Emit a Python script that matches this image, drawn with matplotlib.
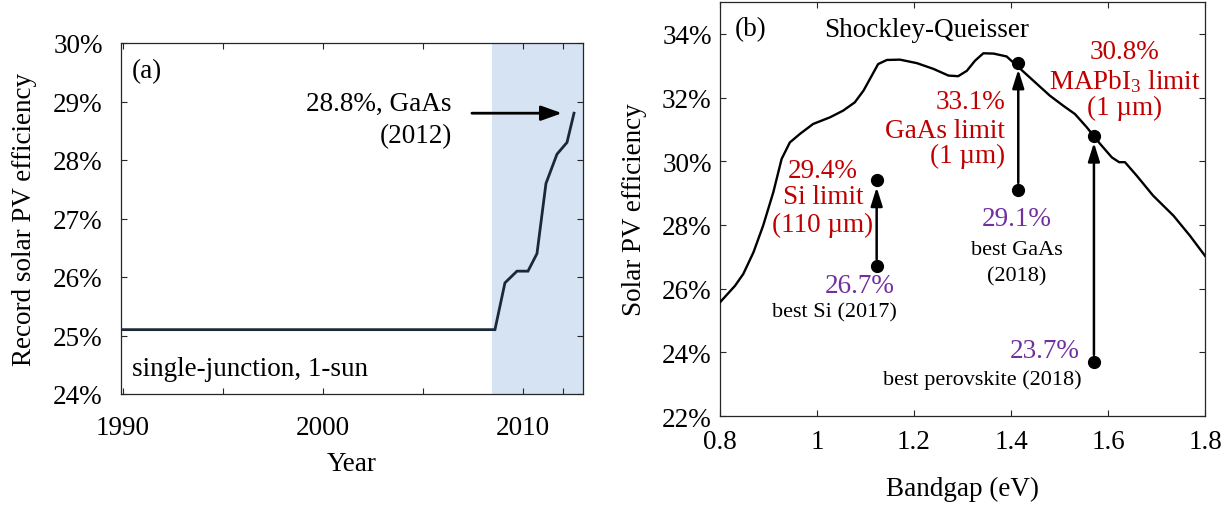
import matplotlib
matplotlib.use("Agg")
import matplotlib.pyplot as plt

plt.rcParams["font.family"] = ["Liberation Serif", "DejaVu Serif"]
plt.rcParams["mathtext.fontset"] = "custom"
plt.rcParams["mathtext.rm"] = "Liberation Serif"
plt.rcParams["mathtext.it"] = "Liberation Serif:italic"

# ---- (a) record single-junction efficiency (GaAs) vs. year ----
record_years = [1990, 2008.6, 2009.1, 2009.7, 2010.25, 2010.7, 2011.15, 2011.7, 2012.2, 2012.55]
record_eff = [25.1, 25.1, 25.9, 26.1, 26.1, 26.4, 27.6, 28.1, 28.3, 28.8]
shade_years = [2008.45, 2013.0]
year_ticks = [1990, 1995, 2000, 2005, 2010, 2012]
year_labels = ["1990", "", "2000", "", "2010", ""]
eff_ticks_a = [24, 25, 26, 27, 28, 29, 30]

# ---- (b) Shockley-Queisser limit vs. bandgap ----
sq_bandgap = [0.800, 0.831, 0.848, 0.869, 0.889, 0.910, 0.927, 0.944, 0.965, 0.992,
              1.027, 1.054, 1.078, 1.096, 1.113, 1.126, 1.144, 1.171, 1.206, 1.240,
              1.271, 1.291, 1.309, 1.326, 1.343, 1.364, 1.391, 1.412, 1.446, 1.480,
              1.508, 1.532, 1.556, 1.584, 1.608, 1.623, 1.635, 1.659, 1.693, 1.735,
              1.769, 1.800]
sq_eff = [25.57, 26.09, 26.46, 27.14, 27.98, 29.03, 30.07, 30.59, 30.86, 31.17,
          31.38, 31.59, 31.85, 32.22, 32.69, 33.05, 33.18, 33.19, 33.08, 32.90,
          32.69, 32.67, 32.84, 33.16, 33.39, 33.38, 33.29, 33.00, 32.53, 32.06,
          31.74, 31.48, 31.07, 30.54, 30.12, 29.97, 29.97, 29.55, 28.92, 28.29,
          27.66, 27.03]

materials = ["Si", "GaAs", "perovskite"]
mat_bandgap = [1.123, 1.415, 1.571]
mat_limit = [29.4, 33.1, 30.8]
mat_best = [26.7, 29.1, 23.7]
bandgap_ticks = [0.8, 1.0, 1.2, 1.4, 1.6, 1.8]
bandgap_labels = ["0.8", "1", "1.2", "1.4", "1.6", "1.8"]
eff_ticks_b = [22, 24, 26, 28, 30, 32, 34]

RED = "#c00000"
PURPLE = "#7030a0"
AXC = "#262626"
FS = 19.5
FS_SMALL = 16

W, H = 1229, 506
fig = plt.figure(figsize=(W / 100, H / 100), dpi=100)

def px_axes(l, t, r, b):
    return [l / W, 1 - b / H, (r - l) / W, (b - t) / H]

def style(ax, xpad, ypad):
    for s in ax.spines.values():
        s.set_color(AXC)
        s.set_linewidth(0.9)
    ax.tick_params(direction="in", top=True, right=True, length=4, width=0.8,
                   colors=AXC, labelcolor="black", labelsize=FS)
    ax.tick_params(axis="x", pad=xpad)
    ax.tick_params(axis="y", pad=ypad)

# ---------------- panel (a) ----------------
ax1 = fig.add_axes(px_axes(120.7, 44, 583, 395))
ax1.axvspan(shade_years[0], shade_years[1], color="#d5e3f2", lw=0, zorder=0)
ax1.plot(record_years, record_eff, color="#1b2838", lw=2.0, solid_joinstyle="miter", zorder=3)
ax1.set_xlim(1989.9, 2013.0)
ax1.set_ylim(24, 30)
ax1.set_xticks(year_ticks)
ax1.set_xticklabels(year_labels)
ax1.set_yticks(eff_ticks_a)
ax1.set_yticklabels([f"{v}%" for v in eff_ticks_a])
style(ax1, xpad=15, ypad=13)
ax1.set_xlabel("Year", fontsize=FS)
ax1.xaxis.set_label_coords(0.5, -0.163)
ax1.set_ylabel("Record solar PV efficiency", fontsize=FS)
ax1.yaxis.set_label_coords(-0.18, 0.5)

ax1.text(1990.45, 29.53, "(a)", fontsize=FS, ha="left", va="center")
ax1.text(2006.45, 28.96, "28.8%, GaAs", fontsize=FS, ha="right", va="center")
ax1.text(2006.45, 28.42, "(2012)", fontsize=FS, ha="right", va="center")
ax1.annotate("", xy=(2011.95, record_eff[-1]), xytext=(2007.45, record_eff[-1]),
             arrowprops=dict(arrowstyle="-|>,head_length=0.7,head_width=0.25",
                             color="black", lw=2.0, mutation_scale=18,
                             shrinkA=0, shrinkB=0))
ax1.text(1990.45, 24.43, "single-junction, 1-sun", fontsize=FS, ha="left", va="center")

# ---------------- panel (b) ----------------
ax2 = fig.add_axes(px_axes(720, 3, 1205, 417))
ax2.plot(sq_bandgap, sq_eff, color="black", lw=1.7, zorder=3)
ax2.set_xlim(0.8, 1.8)
ax2.set_ylim(22, 35)
ax2.set_xticks(bandgap_ticks)
ax2.set_xticklabels(bandgap_labels)
ax2.set_yticks(eff_ticks_b)
ax2.set_yticklabels([f"{v}%" for v in eff_ticks_b])
style(ax2, xpad=9.5, ypad=6)
ax2.set_xlabel("Bandgap (eV)", fontsize=FS)
ax2.xaxis.set_label_coords(0.5, -0.145)
ax2.set_ylabel("Solar PV efficiency", fontsize=FS)
ax2.yaxis.set_label_coords(-0.15, 0.5)

for bg, lim, best in zip(mat_bandgap, mat_limit, mat_best):
    ax2.plot([bg, bg], [lim, best], ls="none", marker="o", ms=8.5,
             color="black", zorder=5)
    ax2.annotate("", xy=(bg, lim), xytext=(bg, best),
                 arrowprops=dict(arrowstyle="-|>,head_length=0.7,head_width=0.22",
                                 color="black", lw=1.8, mutation_scale=16,
                                 shrinkA=5, shrinkB=5), zorder=4)

ax2.text(0.831, 34.15, "(b)", fontsize=FS, ha="left", va="center")
ax2.text(1.014, 34.15, "Shockley-Queisser", fontsize=FS, ha="left", va="center")

# Si
ax2.text(1.012, 29.70, f"{mat_limit[0]}%", color=RED, fontsize=FS, ha="center", va="center")
ax2.text(1.012, 28.88, "Si limit", color=RED, fontsize=FS, ha="center", va="center")
ax2.text(1.012, 28.03, "(110 µm)", color=RED, fontsize=FS, ha="center", va="center")
ax2.text(1.087, 26.09, f"{mat_best[0]}%", color=PURPLE, fontsize=FS, ha="center", va="center")
ax2.text(1.035, 25.27, "best Si (2017)", fontsize=FS_SMALL, ha="center", va="center")

# GaAs
ax2.text(1.388, 31.86, f"{mat_limit[1]}%", color=RED, fontsize=FS, ha="right", va="center")
ax2.text(1.388, 30.96, "GaAs limit", color=RED, fontsize=FS, ha="right", va="center")
ax2.text(1.388, 30.17, "(1 µm)", color=RED, fontsize=FS, ha="right", va="center")
ax2.text(1.412, 28.19, f"{mat_best[1]}%", color=PURPLE, fontsize=FS, ha="center", va="center")
ax2.text(1.412, 27.24, "best GaAs", fontsize=FS_SMALL, ha="center", va="center")
ax2.text(1.412, 26.41, "(2018)", fontsize=FS_SMALL, ha="center", va="center")

# perovskite
ax2.text(1.633, 33.43, f"{mat_limit[2]}%", color=RED, fontsize=FS, ha="center", va="center")
ax2.text(1.635, 32.53, r"MAPbI$_3$ limit", color=RED, fontsize=FS, ha="center", va="center")
ax2.text(1.635, 31.70, "(1 µm)", color=RED, fontsize=FS, ha="center", va="center")
ax2.text(1.542, 24.05, f"{mat_best[2]}%", color=PURPLE, fontsize=FS, ha="right", va="center")
ax2.text(1.340, 23.16, "best perovskite (2018)", fontsize=FS_SMALL, ha="center", va="center")

fig.savefig("out.png", dpi=100)
